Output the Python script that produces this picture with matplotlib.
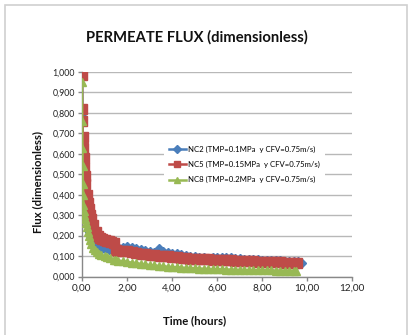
import matplotlib
matplotlib.use("Agg")
import matplotlib.pyplot as plt
from matplotlib.patches import Rectangle
from matplotlib.ticker import FuncFormatter, MultipleLocator

plt.rcParams['font.family'] = ['Lato', 'DejaVu Sans']

# ---- data ----
nc2_t = [0.00, 0.02, 0.04, 0.06, 0.08, 0.10, 0.13, 0.16, 0.20, 0.25, 0.30, 0.35, 0.40,
         0.50, 0.60, 0.70, 0.80, 0.90, 1.00, 1.20, 1.40, 1.60, 1.80, 2.00, 2.20, 2.40,
         2.60, 2.80, 3.00, 3.20, 3.40, 3.60, 3.80, 4.00, 4.20, 4.40, 4.60, 4.80, 5.00,
         5.20, 5.40, 5.60, 5.80, 6.00, 6.20, 6.40, 6.60, 6.80, 7.00, 7.20, 7.40, 7.60,
         7.80, 8.00, 8.20, 8.40, 8.60, 8.80, 9.00, 9.20, 9.40, 9.60, 9.75]
nc2_v = [0.990, 0.780, 0.620, 0.550, 0.500, 0.450, 0.400, 0.360, 0.320, 0.280, 0.250, 0.220, 0.200,
         0.170, 0.155, 0.150, 0.145, 0.140, 0.140, 0.135, 0.135, 0.138, 0.140, 0.142, 0.138, 0.133,
         0.128, 0.124, 0.120, 0.116, 0.135, 0.120, 0.115, 0.110, 0.108, 0.104, 0.100, 0.097, 0.094,
         0.091, 0.089, 0.088, 0.089, 0.092, 0.092, 0.090, 0.090, 0.088, 0.085, 0.083, 0.082, 0.080,
         0.079, 0.078, 0.077, 0.076, 0.075, 0.074, 0.073, 0.072, 0.072, 0.071, 0.068]

nc5_t = [0.00, 0.01, 0.02, 0.03, 0.05, 0.07, 0.09, 0.12, 0.15, 0.20, 0.25, 0.30, 0.35, 0.40,
         0.50, 0.60, 0.70, 0.80, 0.90, 1.00, 1.10, 1.20, 1.30, 1.40, 1.50, 1.60, 1.80, 2.00,
         2.20, 2.40, 2.60, 2.80, 3.00, 3.20, 3.40, 3.60, 3.80, 4.00, 4.20, 4.40, 4.60, 4.80,
         5.00, 5.20, 5.40, 5.60, 5.80, 6.00, 6.20, 6.40, 6.60, 6.80, 7.00, 7.20, 7.40, 7.60,
         7.80, 8.00, 8.20, 8.40, 8.60, 8.80, 9.00, 9.20, 9.40, 9.55]
nc5_v = [0.985, 0.820, 0.760, 0.680, 0.630, 0.580, 0.530, 0.490, 0.450, 0.400, 0.360, 0.330, 0.300, 0.280,
         0.250, 0.220, 0.200, 0.190, 0.185, 0.180, 0.175, 0.175, 0.170, 0.165, 0.130, 0.125, 0.125, 0.125,
         0.120, 0.116, 0.112, 0.110, 0.106, 0.104, 0.102, 0.100, 0.098, 0.096, 0.094, 0.092, 0.090, 0.088,
         0.087, 0.086, 0.085, 0.084, 0.083, 0.082, 0.081, 0.080, 0.079, 0.078, 0.077, 0.076, 0.075, 0.074,
         0.073, 0.073, 0.072, 0.071, 0.070, 0.069, 0.068, 0.067, 0.066, 0.066]

nc8_t = [0.00, 0.01, 0.02, 0.03, 0.04, 0.05, 0.06, 0.08, 0.10, 0.13, 0.16, 0.20, 0.25, 0.30,
         0.36, 0.42, 0.50, 0.58, 0.66, 0.75, 0.85, 1.00, 1.10, 1.24, 1.40, 1.50, 1.60, 1.80,
         2.00, 2.20, 2.40, 2.60, 2.80, 3.00, 3.20, 3.40, 3.60, 3.80, 4.00, 4.20, 4.40, 4.60,
         4.80, 5.00, 5.20, 5.40, 5.60, 5.80, 6.00, 6.20, 6.40, 6.60, 6.80, 7.00, 7.20, 7.40,
         7.60, 7.80, 8.00, 8.20, 8.40, 8.60, 8.80, 9.00, 9.20, 9.40, 9.50]
nc8_v = [0.950, 0.760, 0.630, 0.540, 0.450, 0.400, 0.350, 0.320, 0.300, 0.280, 0.260, 0.240, 0.220, 0.200,
         0.180, 0.160, 0.140, 0.128, 0.120, 0.112, 0.105, 0.098, 0.094, 0.090, 0.082, 0.080, 0.078, 0.075,
         0.072, 0.068, 0.065, 0.062, 0.059, 0.056, 0.054, 0.052, 0.050, 0.048, 0.046, 0.045, 0.044, 0.042,
         0.041, 0.040, 0.039, 0.038, 0.037, 0.036, 0.035, 0.035, 0.034, 0.034, 0.033, 0.033, 0.032, 0.032,
         0.031, 0.031, 0.030, 0.030, 0.030, 0.029, 0.029, 0.029, 0.028, 0.028, 0.028]

labels = ["NC2 (TMP=0.1MPa  y CFV=0.75m/s)",
          "NC5 (TMP=0.15MPa  y CFV=0.75m/s)",
          "NC8 (TMP=0.2MPa  y CFV=0.75m/s)"]
title = "PERMEATE FLUX (dimensionless)"
xlabel = "Time (hours)"
ylabel = "Flux (dimensionless)"

W, H = 409, 335
fig = plt.figure(figsize=(W / 100, H / 100), dpi=100)
fig.patch.set_facecolor('white')
fig.patches.append(Rectangle((5 / W, -0.01), 402 / W, 1 - 5 / H + 0.01,
                             transform=fig.transFigure, fill=False,
                             edgecolor='#d0d0d0', linewidth=1.2))

ax = fig.add_axes([82 / W, 1 - 276.5 / H, 270 / W, 204.5 / H])

ax.plot(nc2_t, nc2_v, color='#4A7EBB', lw=1.8, marker='D', ms=5, label=labels[0], zorder=3)
ax.plot(nc5_t, nc5_v, color='#BE4B48', lw=1.8, marker='s', ms=6.5, label=labels[1], zorder=4)
ax.plot(nc8_t, nc8_v, color='#98B954', lw=1.8, marker='^', ms=6.2, label=labels[2], zorder=5)

ax.set_xlim(0, 12)
ax.set_ylim(0, 1.0)
ax.xaxis.set_major_locator(MultipleLocator(2))
ax.yaxis.set_major_locator(MultipleLocator(0.1))
ax.xaxis.set_major_formatter(FuncFormatter(lambda v, p: f"{v:.2f}".replace('.', ',')))
ax.yaxis.set_major_formatter(FuncFormatter(lambda v, p: f"{v:.3f}".replace('.', ',')))
ax.grid(axis='y', color='#b8b8b8', linewidth=1.0)
ax.set_axisbelow(True)
for s in ['top', 'right']:
    ax.spines[s].set_visible(False)
for s in ['left', 'bottom']:
    ax.spines[s].set_color('#888888')
    ax.spines[s].set_linewidth(1.0)
ax.tick_params(axis='both', colors='#888888', length=3, width=1.0, labelcolor='#222222')
ax.tick_params(axis='y', labelsize=6.3, pad=2)
ax.tick_params(axis='x', labelsize=7.2, pad=2)

fig.text(197 / W, 1 - 37 / H, title, ha='center', va='center',
         fontsize=10.6, fontweight='bold', color='#111111')
fig.text(38 / W, 1 - 182 / H, ylabel, ha='center', va='center', rotation=90,
         fontsize=8.2, fontweight='bold', color='#111111')
fig.text(195 / W, 1 - 321 / H, xlabel, ha='center', va='center',
         fontsize=8.2, fontweight='bold', color='#111111')

leg = ax.legend(loc='upper left', bbox_to_anchor=(160 / W, 1 - 137 / H),
                bbox_transform=fig.transFigure, frameon=True, fontsize=5.6,
                handlelength=2.2, handletextpad=0.3, labelspacing=1.05,
                borderpad=0.6, markerscale=0.75)
leg.get_frame().set_edgecolor('none')
leg.get_frame().set_facecolor('white')
leg.get_frame().set_alpha(1)
leg.get_frame().set_boxstyle('square', pad=0)

fig.savefig('out.png', dpi=100, facecolor='white')
